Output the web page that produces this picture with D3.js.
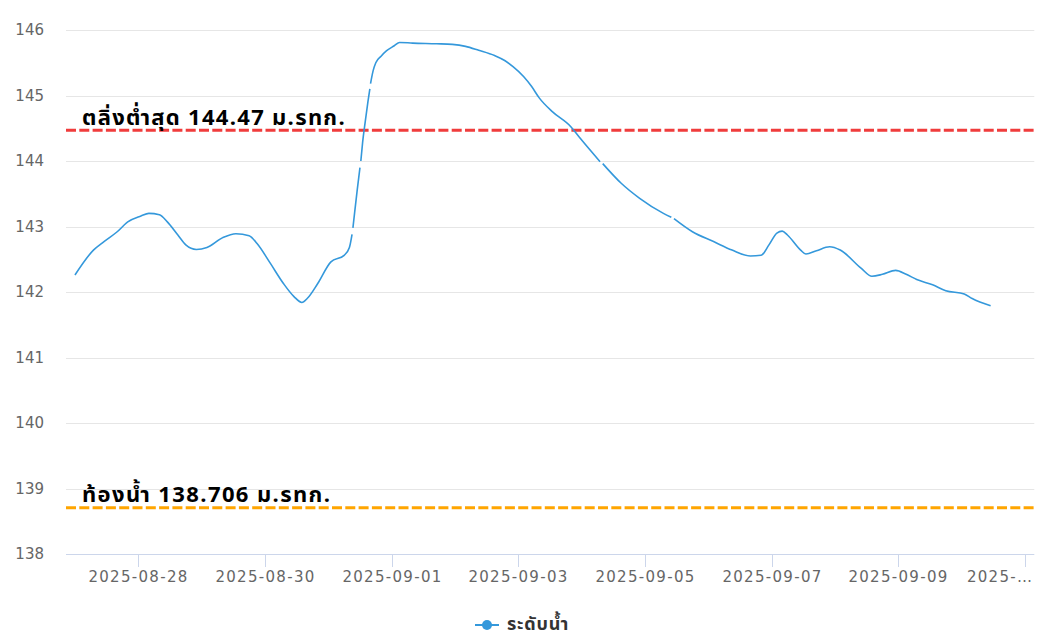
<!DOCTYPE html>
<html>
<head>
<meta charset="utf-8">
<script src="https://cdn.jsdelivr.net/npm/d3@7"></script>
<style>
  html, body { margin: 0; padding: 0; background: #fff; }
  svg { display: block; }
  text { font-family: "DejaVu Sans", sans-serif; }
  .thai { font-family: "Noto Sans Thai", "Noto Sans Thai UI", "Loma", "Garuda", "Tlwg Typo", "Kinnari", "Norasi", "DejaVu Sans", sans-serif; }
</style>
</head>
<body>
<svg id="chart" width="1047" height="637"></svg>
<script>
// ---- data ----
const times = [
  "2025-08-27T00:00","2025-08-27T07:00","2025-08-27T11:00","2025-08-27T16:00","2025-08-27T20:00",
  "2025-08-28T01:00","2025-08-28T04:00","2025-08-28T08:00","2025-08-28T11:00","2025-08-28T15:00",
  "2025-08-28T18:00","2025-08-28T22:00","2025-08-29T02:00","2025-08-29T08:00","2025-08-29T13:00",
  "2025-08-29T18:00","2025-08-29T21:00","2025-08-30T02:00","2025-08-30T07:00","2025-08-30T11:00",
  "2025-08-30T14:00","2025-08-30T16:00","2025-08-30T20:00","2025-08-31T01:00","2025-08-31T06:00",
  "2025-08-31T08:00","2025-08-31T09:00","2025-08-31T09:10","2025-08-31T09:20","2025-08-31T10:00",
  "2025-08-31T11:00","2025-08-31T12:00","2025-08-31T12:10","2025-08-31T12:20","2025-08-31T13:00",
  "2025-08-31T14:00","2025-08-31T15:00","2025-08-31T15:45","2025-08-31T15:52","2025-08-31T16:00",
  "2025-08-31T17:00","2025-08-31T18:00","2025-08-31T20:00",
  "2025-08-31T22:00","2025-09-01T01:00","2025-09-01T03:00","2025-09-01T08:00","2025-09-01T17:00",
  "2025-09-01T23:00","2025-09-02T04:00","2025-09-02T09:00","2025-09-02T15:00","2025-09-02T19:00",
  "2025-09-02T22:00","2025-09-03T02:00","2025-09-03T05:00","2025-09-03T08:00","2025-09-03T13:00",
  "2025-09-03T20:00","2025-09-03T23:00","2025-09-04T07:00","2025-09-04T07:30","2025-09-04T08:00",
  "2025-09-04T15:00","2025-09-04T22:00","2025-09-05T07:00","2025-09-05T10:00","2025-09-05T10:30",
  "2025-09-05T11:00","2025-09-05T18:00","2025-09-06T02:00","2025-09-06T09:00","2025-09-06T16:00",
  "2025-09-06T20:00","2025-09-06T23:00","2025-09-07T02:00","2025-09-07T04:00","2025-09-07T06:00",
  "2025-09-07T11:00","2025-09-07T13:00","2025-09-07T17:00","2025-09-07T22:00","2025-09-08T02:00",
  "2025-09-08T10:00","2025-09-08T14:00","2025-09-08T18:00","2025-09-08T23:00","2025-09-09T03:00",
  "2025-09-09T07:00","2025-09-09T13:00","2025-09-09T18:00","2025-09-10T01:00","2025-09-10T04:00",
  "2025-09-10T11:00"
];
const levels = [
  142.26,142.64,142.77,142.92,143.07,
  143.16,143.20,143.18,143.07,142.87,
  142.72,142.65,142.68,142.83,142.89,
  142.86,142.74,142.44,142.13,141.93,
  141.84,141.90,142.13,142.46,142.56,
  142.68,142.88,null,142.98,143.22,
  143.57,143.90,null,144.00,144.28,
  144.60,144.90,145.10,null,145.18,
  145.38,145.50,145.60,
  145.68,145.76,145.81,145.80,145.79,
  145.78,145.75,145.69,145.61,145.53,
  145.44,145.29,145.14,144.96,144.75,
  144.52,144.37,143.99,null,143.96,
  143.66,143.43,143.20,143.14,null,
  143.12,142.92,142.77,142.64,142.55,
  142.56,142.72,142.90,142.93,142.87,
  142.64,142.58,142.63,142.69,142.64,
  142.36,142.24,142.27,142.33,142.27,
  142.19,142.11,142.02,141.97,141.90,
  141.79
];
const yTicks = [138,139,140,141,142,143,144,145,146];
const xTickDates = ["2025-08-28","2025-08-30","2025-09-01","2025-09-03","2025-09-05","2025-09-07","2025-09-09","2025-09-11"];
const xTickLabels = ["2025-08-28","2025-08-30","2025-09-01","2025-09-03","2025-09-05","2025-09-07","2025-09-09","2025-…"];
const xDomain = ["2025-08-26T20:36","2025-09-11T03:33"];
const yDomain = [138,146];
const bankLevel = 144.47, bankLabel = "ตลิ่งต่ำสุด 144.47 ม.รทก.";
const bedLevel = 138.706, bedLabel = "ท้องน้ำ 138.706 ม.รทก.";
const seriesName = "ระดับน้ำ";

// ---- layout ----
const plotLeft = 66, plotRight = 1034.3, plotTop = 30, plotBottom = 554;
const parse = s => new Date(s.length <= 10 ? s + "T00:00:00Z" : s + ":00Z");

const x = d3.scaleUtc().domain(xDomain.map(parse)).range([plotLeft, plotRight]);
const y = d3.scaleLinear().domain(yDomain).range([plotBottom, plotTop]);

const svg = d3.select("#chart");

// gridlines
svg.append("g").selectAll("line").data(yTicks.filter(v => v !== yDomain[0])).join("line")
  .attr("x1", plotLeft).attr("x2", plotRight)
  .attr("y1", d => Math.round(y(d)) + 0.5).attr("y2", d => Math.round(y(d)) + 0.5)
  .attr("stroke", "#e6e6e6").attr("stroke-width", 1);

// y labels
svg.append("g").selectAll("text").data(yTicks).join("text")
  .attr("x", 44).attr("y", d => y(d)).attr("dy", "0.36em")
  .attr("text-anchor", "end").attr("fill", "#666").attr("font-size", 15)
  .text(d => d);

// x axis line
svg.append("line").attr("x1", plotLeft).attr("x2", plotRight)
  .attr("y1", plotBottom + 0.5).attr("y2", plotBottom + 0.5)
  .attr("stroke", "#ccd6eb").attr("stroke-width", 1);

const xt = svg.append("g");
xTickDates.forEach((d, i) => {
  const px = Math.round(x(parse(d))) + 0.5;
  xt.append("line").attr("x1", px).attr("x2", px).attr("y1", plotBottom).attr("y2", plotBottom + 13)
    .attr("stroke", "#ccd6eb").attr("stroke-width", 1);
  const last = i === xTickDates.length - 1;
  xt.append("text")
    .attr("x", last ? plotRight - 1 : px).attr("y", 582)
    .attr("text-anchor", last ? "end" : "middle")
    .attr("fill", "#666").attr("font-size", 15).attr("letter-spacing", 1.3)
    .text(xTickLabels[i]);
});

// plot lines (threshold)
svg.append("line").attr("x1", plotLeft).attr("x2", plotRight)
  .attr("y1", y(bankLevel)).attr("y2", y(bankLevel))
  .attr("stroke", "#f03c3c").attr("stroke-width", 3).attr("stroke-dasharray", "10,3.3");
svg.append("line").attr("x1", plotLeft).attr("x2", plotRight)
  .attr("y1", y(bedLevel)).attr("y2", y(bedLevel))
  .attr("stroke", "#ffa500").attr("stroke-width", 3).attr("stroke-dasharray", "10,3.3");

svg.append("text").attr("class", "thai")
  .attr("x", 82).attr("y", y(bankLevel) - 5)
  .attr("font-size", 22).attr("font-weight", "bold").attr("fill", "#000").attr("letter-spacing", 1.3)
  .text(bankLabel);
svg.append("text").attr("class", "thai")
  .attr("x", 82).attr("y", y(bedLevel) - 6)
  .attr("font-size", 22).attr("font-weight", "bold").attr("fill", "#000").attr("letter-spacing", 1.4)
  .text(bedLabel);

// series
const data = times.map((t, i) => ({ t: parse(t), v: levels[i] }));
const line = d3.line()
  .defined(d => d.v !== null)
  .x(d => x(d.t)).y(d => y(d.v))
  .curve(d3.curveMonotoneX);
svg.append("path").datum(data)
  .attr("fill", "none").attr("stroke", "#3498db").attr("stroke-width", 1.6)
  .attr("d", line);

// legend
const lg = svg.append("g");
lg.append("line").attr("x1", 475).attr("x2", 499).attr("y1", 625).attr("y2", 625)
  .attr("stroke", "#3498db").attr("stroke-width", 2);
lg.append("circle").attr("cx", 487).attr("cy", 625).attr("r", 5).attr("fill", "#3498db");
lg.append("text").attr("class", "thai")
  .attr("x", 507).attr("y", 630)
  .attr("font-size", 18).attr("font-weight", "bold").attr("fill", "#333").attr("letter-spacing", 0.8)
  .text(seriesName);
</script>
</body>
</html>
